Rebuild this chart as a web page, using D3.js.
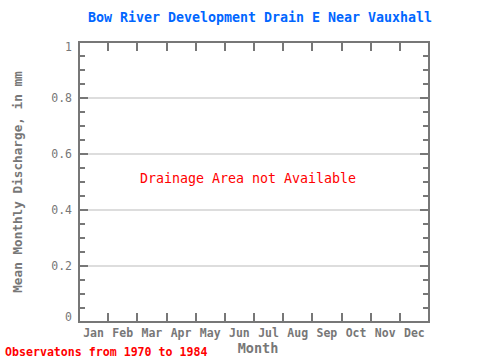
<!DOCTYPE html>
<html><head><meta charset="utf-8">
<script src="https://cdn.jsdelivr.net/npm/d3@7"></script>
<style>body{margin:0;background:#fff}svg{display:block}</style>
</head><body>
<script>
const months = ["Jan","Feb","Mar","Apr","May","Jun","Jul","Aug","Sep","Oct","Nov","Dec"];
const yTicks = [0, 0.2, 0.4, 0.6, 0.8, 1];
const yMinor = d3.range(0, 1.0001, 0.05);
const title = "Bow River Development Drain E Near Vauxhall";
const yLabel = "Mean Monthly Discharge, in mm";
const xLabel = "Month";
const note = "Drainage Area not Available";
const footer = "Observatons from 1970 to 1984";

const W = 480, H = 360;
const m = {l:79, r:429, t:42, b:322};
const font = "'DejaVu Sans Mono', 'Liberation Mono', monospace";
const gray = "#777";

const svg = d3.select("body").append("svg").attr("width", W).attr("height", H);
const x = d3.scaleBand().domain(months).range([m.l, m.r]);
const y = d3.scaleLinear().domain([0, 1]).range([m.b, m.t]);

// grid
svg.append("g").selectAll("line").data(yTicks.filter(d => d > 0 && d < 1)).join("line")
  .attr("x1", m.l).attr("x2", m.r).attr("y1", d => y(d)).attr("y2", d => y(d))
  .attr("stroke", "#bbb").attr("stroke-width", 1);

// minor y ticks left & right
const minor = yMinor.filter(v => !yTicks.some(t => Math.abs(t - v) < 1e-6));
svg.append("g").selectAll("line").data(minor).join("line")
  .attr("x1", m.l).attr("x2", m.l + 6).attr("y1", d => Math.round(y(d))).attr("y2", d => Math.round(y(d)))
  .attr("stroke", gray).attr("stroke-width", 2);
svg.append("g").selectAll("line").data(minor).join("line")
  .attr("x1", m.r - 6).attr("x2", m.r).attr("y1", d => Math.round(y(d))).attr("y2", d => Math.round(y(d)))
  .attr("stroke", gray).attr("stroke-width", 2);
// major y ticks
svg.append("g").selectAll("line").data(yTicks).join("line")
  .attr("x1", m.l).attr("x2", m.l + 9).attr("y1", d => y(d)).attr("y2", d => y(d))
  .attr("stroke", gray).attr("stroke-width", 2);
svg.append("g").selectAll("line").data(yTicks).join("line")
  .attr("x1", m.r - 9).attr("x2", m.r).attr("y1", d => y(d)).attr("y2", d => y(d))
  .attr("stroke", gray).attr("stroke-width", 2);

// x ticks at month boundaries
const bounds = months.slice(1).map(mo => x(mo));
svg.append("g").selectAll("line").data(bounds).join("line")
  .attr("x1", d => Math.round(d)).attr("x2", d => Math.round(d)).attr("y1", m.t).attr("y2", m.t + 9)
  .attr("stroke", gray).attr("stroke-width", 2);
svg.append("g").selectAll("line").data(bounds).join("line")
  .attr("x1", d => Math.round(d)).attr("x2", d => Math.round(d)).attr("y1", m.b - 9).attr("y2", m.b)
  .attr("stroke", gray).attr("stroke-width", 2);

// frame
svg.append("rect").attr("x", m.l).attr("y", m.t).attr("width", m.r - m.l).attr("height", m.b - m.t)
  .attr("fill", "none").attr("stroke", gray).attr("stroke-width", 2);

// y tick labels (extremes nudged inward as in reference)
svg.append("g").selectAll("text").data(yTicks).join("text")
  .attr("x", 72).attr("y", d => y(d) + 4 + (d === 1 ? 5 : d === 0 ? -5 : 0)).attr("text-anchor", "end")
  .attr("font-family", font).attr("font-size", 11.5).attr("fill", gray)
  .text(d => d3.format("~g")(d));

// month labels
svg.append("g").selectAll("text").data(months).join("text")
  .attr("x", d => x(d) + x.bandwidth() / 2).attr("y", 337).attr("text-anchor", "middle")
  .attr("font-family", font).attr("font-size", 11.5).attr("font-weight", "bold").attr("fill", gray)
  .text(d => d);

// axis titles
svg.append("text").attr("x", 258).attr("y", 353).attr("text-anchor", "middle")
  .attr("font-family", font).attr("font-size", 13.5).attr("font-weight", "bold").attr("fill", gray)
  .text(xLabel);
svg.append("text").attr("transform", "translate(22,182) rotate(-90)").attr("text-anchor", "middle")
  .attr("font-family", font).attr("font-size", 12.7).attr("font-weight", "bold").attr("fill", gray)
  .text(yLabel);

// title
svg.append("text").attr("x", 260).attr("y", 22).attr("text-anchor", "middle")
  .attr("font-family", font).attr("font-size", 13.3).attr("font-weight", "bold").attr("fill", "#0066ff")
  .text(title);

// note
svg.append("text").attr("x", 248).attr("y", 183).attr("text-anchor", "middle")
  .attr("font-family", font).attr("font-size", 13.3).attr("fill", "#ff0000")
  .text(note);

// footer
svg.append("text").attr("x", 5).attr("y", 356).attr("text-anchor", "start")
  .attr("font-family", font).attr("font-size", 11.6).attr("font-weight", "bold").attr("fill", "#ff0000")
  .text(footer);
</script>
</body></html>
